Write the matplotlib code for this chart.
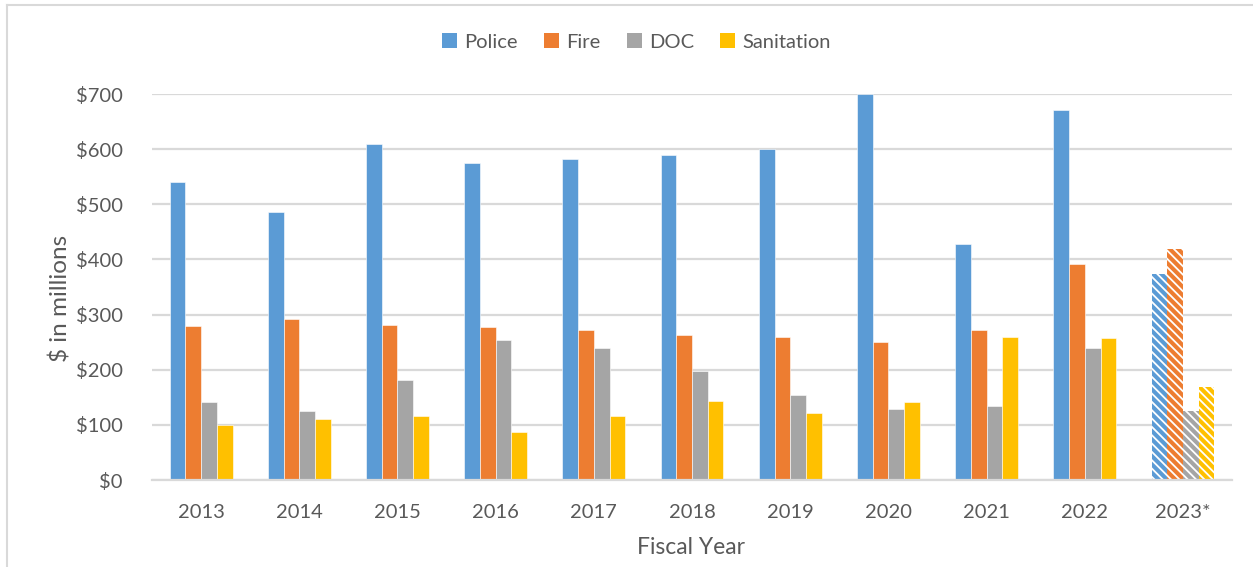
#!/usr/bin/env python3
"""Uniformed agency overtime spending by fiscal year."""

import matplotlib
matplotlib.use('Agg')
import matplotlib.pyplot as plt
import numpy as np
from matplotlib.patches import Patch
from matplotlib.lines import Line2D

years = ['2013', '2014', '2015', '2016', '2017', '2018', '2019', '2020', '2021', '2022', '2023*']
police = [540, 486, 610, 575, 582, 589, 600, 700, 428, 671, 373]
fire = [279, 292, 282, 277, 272, 263, 260, 251, 272, 391, 419]
doc = [141, 125, 181, 254, 240, 198, 155, 128, 134, 240, 126]
sanitation = [99, 110, 116, 87, 116, 143, 121, 141, 260, 257, 168]

series = [("Police", police, '#5b9bd5'),
          ("Fire", fire, '#ed7d31'),
          ("DOC", doc, '#a5a5a5'),
          ("Sanitation", sanitation, '#ffc000')]

plt.rcParams['font.family'] = ['Lato', 'DejaVu Sans']
plt.rcParams['hatch.linewidth'] = 1.3
txt = '#595959'
grid = '#d9d9d9'

fig = plt.figure(figsize=(12.53, 5.67), dpi=100)
ax = fig.add_axes([0.1213, 0.1534, 0.8620, 0.6808])

x = np.arange(len(years))
w = 0.16
for i, (name, vals, col) in enumerate(series):
    bars = ax.bar(x + (i - 1.5) * w, vals, w, color=col, edgecolor='white',
                  linewidth=0.4, zorder=3)
    # projected year is hatched
    bars[-1].set_hatch('\\\\\\\\')
    bars[-1].set_linewidth(0)

ax.set_xlim(-0.5, len(years) - 0.5)
ax.set_ylim(0, 700)
ax.set_yticks(range(0, 701, 100))
ax.set_yticklabels([f'${v}' for v in range(0, 701, 100)])
ax.set_xticks(x)
ax.set_xticklabels(years)
ax.yaxis.grid(True, color=grid, linewidth=1.6, zorder=0)
for s in ['top', 'right', 'left']:
    ax.spines[s].set_visible(False)
ax.spines['bottom'].set_color(grid)
ax.spines['bottom'].set_linewidth(1.6)
ax.spines['bottom'].set_zorder(4)
ax.tick_params(axis='both', length=0, labelsize=14.5, colors=txt)
ax.tick_params(axis='y', pad=21)
ax.tick_params(axis='x', pad=17)

fig.text(60 / 1253, 1 - 298 / 567, '$ in millions', rotation=90, ha='center',
         va='center', fontsize=17.5, color=txt)
fig.text(691 / 1253, 1 - 548 / 567, 'Fiscal Year', ha='center', va='center',
         fontsize=16.5, color=txt)

handles = [Patch(facecolor=c, edgecolor='none', label=n) for n, _, c in series]
fig.legend(handles=handles, loc='center', bbox_to_anchor=(0.508, 1 - 42 / 567),
           ncol=4, frameon=False, fontsize=14.5, labelcolor=txt,
           handlelength=0.75, handleheight=0.75, handletextpad=0.35,
           columnspacing=1.3)

# outer chart frame (left and top visible)
fig.add_artist(Line2D([7 / 1253, 7 / 1253], [0, 1 - 5 / 567], color=grid,
                      linewidth=1.5, transform=fig.transFigure))
fig.add_artist(Line2D([7 / 1253, 1], [1 - 5 / 567, 1 - 5 / 567], color=grid,
                      linewidth=1.5, transform=fig.transFigure))

fig.savefig('out.png', dpi=100)
